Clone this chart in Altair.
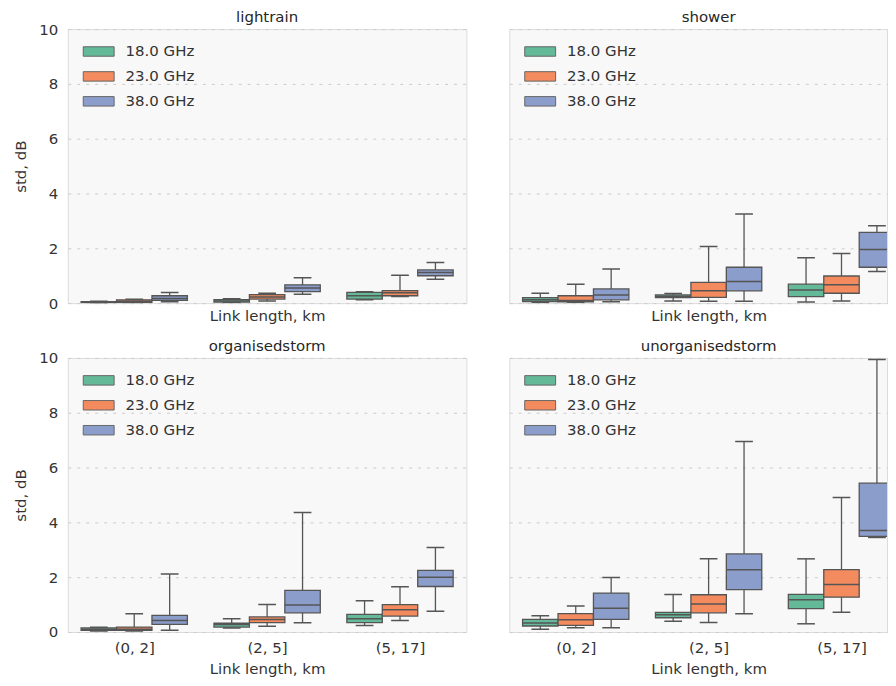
import json
import altair as alt
import pandas as pd

conditions = ["lightrain", "shower", "organisedstorm", "unorganisedstorm"]
link_bins = ["(0, 2]", "(2, 5]", "(5, 17]"]
frequencies = ["18.0 GHz", "23.0 GHz", "38.0 GHz"]
box_colors = ["#63b998", "#f48b5e", "#8b9dca"]

# order of each list: (0,2] 18/23/38, (2,5] 18/23/38, (5,17] 18/23/38
lightrain_low = [0.00, 0.01, 0.05, 0.02, 0.08, 0.32, 0.12, 0.24, 0.87]
lightrain_q1 = [0.02, 0.03, 0.10, 0.04, 0.15, 0.42, 0.15, 0.27, 1.00]
lightrain_median = [0.03, 0.07, 0.17, 0.08, 0.22, 0.55, 0.27, 0.38, 1.12]
lightrain_q3 = [0.05, 0.12, 0.27, 0.13, 0.31, 0.67, 0.39, 0.46, 1.21]
lightrain_high = [0.07, 0.14, 0.39, 0.16, 0.36, 0.93, 0.42, 1.02, 1.48]

shower_low = [0.02, 0.03, 0.05, 0.08, 0.07, 0.07, 0.04, 0.08, 1.15]
shower_q1 = [0.06, 0.05, 0.12, 0.20, 0.21, 0.45, 0.24, 0.36, 1.31]
shower_median = [0.12, 0.10, 0.30, 0.25, 0.45, 0.79, 0.48, 0.67, 1.96]
shower_q3 = [0.20, 0.27, 0.52, 0.30, 0.76, 1.31, 0.69, 0.99, 2.58]
shower_high = [0.36, 0.69, 1.25, 0.35, 2.07, 3.25, 1.66, 1.81, 2.82]

organised_low = [0.04, 0.04, 0.06, 0.15, 0.21, 0.34, 0.24, 0.42, 0.76]
organised_q1 = [0.06, 0.06, 0.28, 0.18, 0.34, 0.70, 0.34, 0.58, 1.66]
organised_median = [0.10, 0.10, 0.42, 0.27, 0.46, 0.99, 0.48, 0.81, 2.00]
organised_q3 = [0.15, 0.18, 0.61, 0.32, 0.55, 1.52, 0.64, 1.00, 2.25]
organised_high = [0.17, 0.67, 2.12, 0.48, 1.00, 4.36, 1.14, 1.65, 3.08]

unorganised_low = [0.10, 0.16, 0.16, 0.39, 0.35, 0.67, 0.30, 0.72, 3.45]
unorganised_q1 = [0.22, 0.24, 0.46, 0.52, 0.70, 1.55, 0.85, 1.27, 3.49]
unorganised_median = [0.33, 0.45, 0.87, 0.63, 1.02, 2.27, 1.18, 1.73, 3.70]
unorganised_q3 = [0.46, 0.67, 1.42, 0.72, 1.36, 2.85, 1.37, 2.28, 5.43]
unorganised_high = [0.59, 0.95, 1.99, 1.37, 2.67, 6.95, 2.67, 4.91, 9.94]

stats = {
    "lightrain": (lightrain_low, lightrain_q1, lightrain_median, lightrain_q3, lightrain_high),
    "shower": (shower_low, shower_q1, shower_median, shower_q3, shower_high),
    "organisedstorm": (organised_low, organised_q1, organised_median, organised_q3, organised_high),
    "unorganisedstorm": (unorganised_low, unorganised_q1, unorganised_median, unorganised_q3, unorganised_high),
}

LINE = "#555555"
FONT = "DejaVu Sans"
PANEL_H = 275
LEFT_W = 400
RIGHT_W = 379
GROUP_WIDTH = 0.8          # seaborn-style dodge: 80% of each category slot
BOX_W = GROUP_WIDTH / len(frequencies)
CAP_W = BOX_W / 2

label_expr = json.dumps(link_bins) + "[datum.value]"


def panel(cond, left, bottom):
    lo, q1, med, q3, hi = stats[cond]
    rows = []
    i = 0
    for bi, b in enumerate(link_bins):
        for fi, f in enumerate(frequencies):
            pos = bi + (fi - (len(frequencies) - 1) / 2) * BOX_W
            rows.append({"bin": b, "freq": f, "pos": pos,
                         "box_l": pos - BOX_W / 2, "box_r": pos + BOX_W / 2,
                         "cap_l": pos - CAP_W / 2, "cap_r": pos + CAP_W / 2,
                         "lo": lo[i], "q1": q1[i], "med": med[i], "q3": q3[i], "hi": hi[i]})
            i += 1
    df = pd.DataFrame(rows)

    width = LEFT_W if left else RIGHT_W
    x_max = -0.5 + 3 * width / LEFT_W
    xaxis_kw = dict(title="Link length, km", labels=bottom, ticks=False, domain=False,
                    values=[0, 1, 2], labelExpr=label_expr, labelPadding=9,
                    titlePadding=6 if bottom else 5, grid=False)
    if not left:
        xaxis_kw["titleX"] = LEFT_W / 2
    xscale = alt.Scale(domain=[-0.5, x_max], nice=False, zero=False)
    xaxis = alt.Axis(**xaxis_kw)

    yscale = alt.Scale(domain=[0, 10], nice=False, zero=True)
    if left:
        yaxis = alt.Axis(values=[0, 2, 4, 6, 8, 10], title="std, dB", ticks=False, domain=False,
                         grid=True, gridDash=[3, 6], gridColor="#cccccc", labelPadding=10,
                         titlePadding=10)
    else:
        yaxis = alt.Axis(values=[0, 2, 4, 6, 8, 10], title=None, labelOpacity=0, ticks=False,
                         domain=False, grid=True, gridDash=[3, 6], gridColor="#cccccc",
                         labelPadding=10)

    def xenc(field):
        return alt.X(field, type="quantitative", scale=xscale, axis=xaxis)

    def yenc(field):
        return alt.Y(field, type="quantitative", scale=yscale, axis=yaxis)

    base = alt.Chart(df)

    whisker = base.mark_rule(color=LINE, strokeWidth=1.3, clip=True).encode(
        x=xenc("pos"), y=yenc("lo"), y2="hi")
    box = base.mark_rect(stroke=LINE, strokeWidth=1.3, clip=True).encode(
        x=xenc("box_l"), x2="box_r", y=yenc("q1"), y2="q3",
        color=alt.Color("freq:N", sort=frequencies,
                        scale=alt.Scale(domain=frequencies, range=box_colors),
                        legend=alt.Legend(title=None, orient="top-left", offset=15, padding=0,
                                          symbolType="M-1.4,-0.95H4.8V0.95H-1.4Z",
                                          symbolSize=100,
                                          symbolStrokeColor="#666666", symbolStrokeWidth=1,
                                          symbolOpacity=1,
                                          labelFont=FONT, labelFontSize=15, labelColor="#333333",
                                          labelOffset=28, rowPadding=9)))
    median = base.mark_rule(color=LINE, strokeWidth=1.5, clip=True).encode(
        x=xenc("box_l"), x2="box_r", y=yenc("med"))
    cap_lo = base.mark_rule(color=LINE, strokeWidth=1.5, clip=True).encode(
        x=xenc("cap_l"), x2="cap_r", y=yenc("lo"))
    cap_hi = base.mark_rule(color=LINE, strokeWidth=1.5, clip=True).encode(
        x=xenc("cap_l"), x2="cap_r", y=yenc("hi"))

    title = alt.TitleParams(cond, font=FONT, fontSize=15, fontWeight="normal",
                            color="#262626", offset=-3, anchor="middle", frame="group",
                            dx=0 if left else (LEFT_W - width) / 2)
    return alt.layer(whisker, box, median, cap_lo, cap_hi).properties(
        width=width, height=PANEL_H, title=title)


top = alt.hconcat(panel(conditions[0], True, False), panel(conditions[1], False, False),
                  spacing=12).resolve_scale(color="independent")
bottom = alt.hconcat(panel(conditions[2], True, True), panel(conditions[3], False, True),
                     spacing=12).resolve_scale(color="independent")

chart = alt.vconcat(top, bottom, spacing=14).resolve_scale(color="independent").properties(
    padding={"left": 5, "top": 0, "right": 0, "bottom": 0}, background="white"
).configure_view(fill="#f8f8f8", stroke="#dcdcdc", strokeWidth=1).configure_axis(
    labelFont=FONT, labelFontSize=15, titleFont=FONT, titleFontSize=15,
    titleFontWeight="normal", labelColor="#333333", titleColor="#333333"
)

chart.save("out.html", embed_options={"renderer": "svg", "actions": False})
